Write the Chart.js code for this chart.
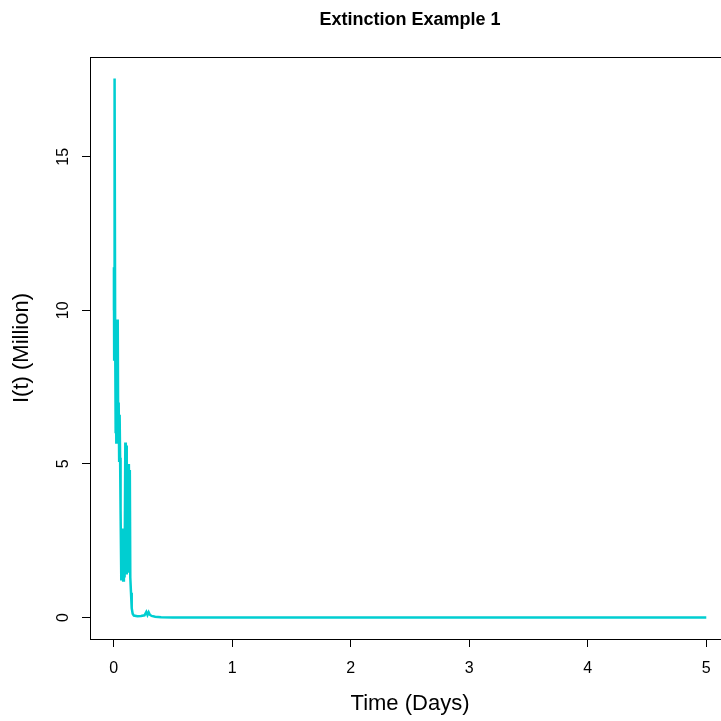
<!DOCTYPE html>
<html>
<head>
<meta charset="utf-8">
<script src="https://cdn.jsdelivr.net/npm/chart.js@4.4.0/dist/chart.umd.min.js"></script>
<style>
  html, body { margin: 0; padding: 0; background: #fff; overflow: hidden; }
  #wrap { width: 740px; height: 721px; }
</style>
</head>
<body>
<div id="wrap"><canvas id="c" width="740" height="721"></canvas></div>
<script>
const timeDays = [0, 0.002, 0.004, 0.006, 0.009, 0.012, 0.015, 0.018, 0.022, 0.026,
  0.030, 0.034, 0.038, 0.042, 0.046, 0.050, 0.054, 0.058, 0.064, 0.070,
  0.076, 0.080, 0.086, 0.092, 0.098, 0.102, 0.106, 0.110, 0.116, 0.122,
  0.128, 0.132, 0.136, 0.140, 0.146, 0.152, 0.160, 0.170, 0.200, 0.230,
  0.260, 0.275, 0.285, 0.295, 0.305, 0.320, 0.350, 0.400, 0.500, 1, 2, 3, 4, 5];
const infected = [10.0, 11.4, 8.4, 17.55, 17.4, 9.6, 6.0, 9.7, 5.7, 8.5,
  6.2, 9.7, 5.8, 7.0, 5.1, 6.6, 5.2, 3.5, 1.2, 2.5,
  2.9, 1.2, 1.8, 1.3, 5.7, 1.5, 5.6, 1.4, 3.5, 1.5,
  5.0, 1.5, 4.8, 1.3, 0.8, 0.3, 0.12, 0.06, 0.04, 0.05,
  0.07, 0.18, 0.08, 0.17, 0.09, 0.05, 0.02, 0.005, 0, 0, 0, 0, 0, 0];
const xTicks = [0, 1, 2, 3, 4, 5];
const yTicks = [0, 5, 10, 15];

const font = '"Liberation Sans", Arial, sans-serif';

// box + title .................................................................
const rFrame = {
  id: 'rFrame',
  afterDraw(chart) {
    const a = chart.chartArea, ctx = chart.ctx;
    ctx.save();
    ctx.strokeStyle = '#000';
    ctx.lineWidth = 1;
    ctx.strokeRect(Math.round(a.left) + 0.5, Math.round(a.top) + 0.5,
      Math.round(a.right - a.left), Math.round(a.bottom - a.top));
    ctx.fillStyle = '#000';
    ctx.font = 'bold 18px ' + font;
    ctx.textAlign = 'center';
    ctx.textBaseline = 'middle';
    ctx.fillText('Extinction Example 1', (a.left + a.right) / 2, 20);
    ctx.restore();
  }
};

let ctx = document.getElementById('c').getContext('2d');
let myChart = new Chart(ctx, {
  type: 'line',
  data: {
    datasets: [{
      data: timeDays.map((t, i) => ({x: t, y: infected[i]})),
      borderColor: '#00CED1',
      borderWidth: 2.5,
      pointRadius: 0,
      tension: 0,
      fill: false
    }]
  },
  options: {
    responsive: false,
    animation: false,
    layout: { padding: { left: 0, top: 57, right: 10, bottom: 0 } },
    plugins: { legend: { display: false }, tooltip: { enabled: false } },
    scales: {
      x: {
        type: 'linear',
        min: -0.2, max: 5.2,
        afterBuildTicks: s => { s.ticks = xTicks.map(v => ({value: v})); },
        afterFit: s => { s.height = 82; },
        grid: { display: true, drawOnChartArea: false, drawTicks: true, tickLength: 8,
                color: '#000', tickColor: '#000', tickWidth: 1, lineWidth: 1 },
        border: { display: true, color: '#000', width: 1 },
        ticks: { color: '#000', font: { family: font, size: 16 }, padding: 12, maxRotation: 0 },
        title: { display: true, text: 'Time (Days)', color: '#000',
                 font: { family: font, size: 22 }, padding: { top: 0, bottom: 4 } }
      },
      y: {
        min: -0.702, max: 18.25,
        afterBuildTicks: s => { s.ticks = yTicks.map(v => ({value: v})); },
        afterFit: s => { s.width = 90; },
        grid: { display: true, drawOnChartArea: false, drawTicks: true, tickLength: 8,
                color: '#000', tickColor: '#000', tickWidth: 1, lineWidth: 1 },
        border: { display: true, color: '#000', width: 1 },
        ticks: { color: '#000', font: { family: font, size: 16 }, padding: 10,
                 minRotation: 90, maxRotation: 90, crossAlign: 'center' },
        title: { display: true, text: 'I(t) (Million)', color: '#000',
                 font: { family: font, size: 22 }, padding: { top: 9, bottom: 0 } }
      }
    }
  },
  plugins: [rFrame]
});
</script>
</body>
</html>
